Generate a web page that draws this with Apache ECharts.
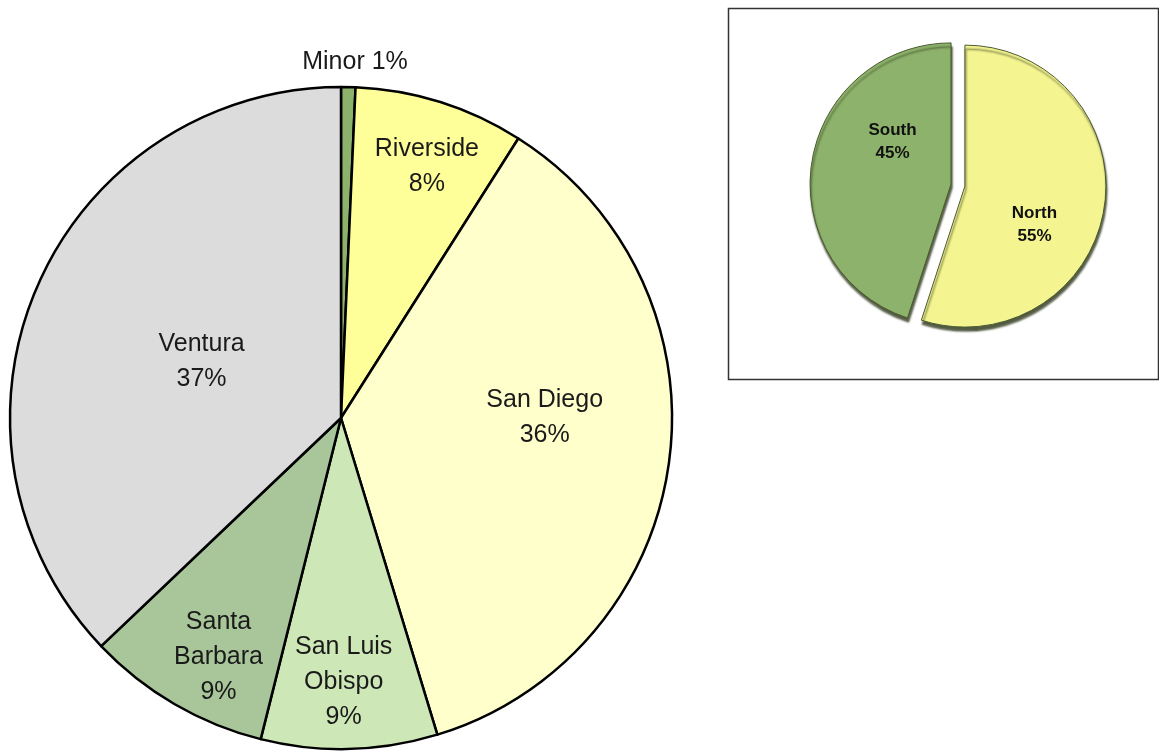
<!DOCTYPE html>
<html>
<head>
<meta charset="utf-8">
<script src="https://cdn.jsdelivr.net/npm/echarts@6/dist/echarts.min.js"></script>
<style>html,body{margin:0;padding:0;background:#fff}#c{width:1159px;height:754px}</style>
</head>
<body>
<div id="c"></div>
<script>
// Main pie data
const regions = ['Minor', 'Riverside', 'San Diego', 'San Luis\nObispo', 'Santa\nBarbara', 'Ventura'];
const regionShares = [0.7, 8.3, 36.3, 8.6, 9.0, 37.1];
// Inset pie data
const halves = ['North', 'South'];
const halfShares = [55, 45];

// styles
const regionColors = ['#8cb26c', '#ffff99', '#ffffcc', '#cde8b6', '#a8c69a', '#dcdcdc'];
const regionLabelRadius = [1.08, 0.82, 0.61, 0.79, 0.81, 0.46]; // fraction of radius
const regionLabelShift = [[6, 8], [3, 12], [0, -28], [-4, -2], [15, 3], [3, 5]];
const halfColors = ['#f4f490', '#8db26b'];
const halfLabelShift = [[-3, 27], [14, -31]];

const mainC = [341, 418], mainR = 331;

const chart = echarts.init(document.getElementById('c'));
chart.setOption({
  animation: false,
  graphic: [{
    type: 'rect', shape: {x: 728.5, y: 8.5, width: 430, height: 371},
    style: {fill: 'none', stroke: '#333', lineWidth: 1.5}, z: 0
  }],
  series: [{
    type: 'pie',
    center: mainC,
    radius: [0, mainR],
    startAngle: 90,
    clockwise: true,
    avoidLabelOverlap: false,
    itemStyle: {borderColor: '#000', borderWidth: 2.5},
    label: {
      show: true, position: 'inside',
      fontFamily: 'Liberation Sans, Arial, sans-serif', fontSize: 25, lineHeight: 35,
      color: '#1a1a1a',
      formatter: p => p.dataIndex === 0 ? p.name + ' ' + Math.round(p.percent) + '%' : p.name + '\n' + Math.round(p.percent) + '%'
    },
    labelLine: {show: false},
    labelLayout: p => {
      const i = p.dataIndex;
      const f = regionLabelRadius[i] / 0.5;
      const lx = p.labelRect.x + p.labelRect.width / 2;
      const ly = p.labelRect.y + p.labelRect.height / 2;
      return {dx: (lx - mainC[0]) * (f - 1) + regionLabelShift[i][0], dy: (ly - mainC[1]) * (f - 1) + regionLabelShift[i][1]};
    },
    emphasis: {disabled: true},
    data: regions.map((n, i) => ({name: n, value: regionShares[i], itemStyle: {color: regionColors[i]}}))
  }, {
    type: 'pie',
    center: [958, 185],
    radius: [0, 141],
    startAngle: 90,
    clockwise: true,
    selectedMode: 'multiple',
    selectedOffset: 7,
    avoidLabelOverlap: false,
    itemStyle: {borderColor: '#4a5a30', borderWidth: 1, shadowColor: 'rgba(40,50,20,0.8)', shadowOffsetY: 4, shadowOffsetX: 1, shadowBlur: 2},
    label: {
      show: true, position: 'inside',
      fontFamily: 'Liberation Sans, Arial, sans-serif', fontSize: 17, fontWeight: 'bold', lineHeight: 23,
      color: '#111',
      formatter: p => p.name + '\n' + Math.round(p.percent) + '%'
    },
    labelLine: {show: false},
    labelLayout: p => ({dx: halfLabelShift[p.dataIndex][0], dy: halfLabelShift[p.dataIndex][1]}),
    emphasis: {disabled: true},
    data: halves.map((n, i) => ({name: n, value: halfShares[i], selected: true, itemStyle: {color: halfColors[i]}}))
  }]
});
</script>
</body>
</html>
